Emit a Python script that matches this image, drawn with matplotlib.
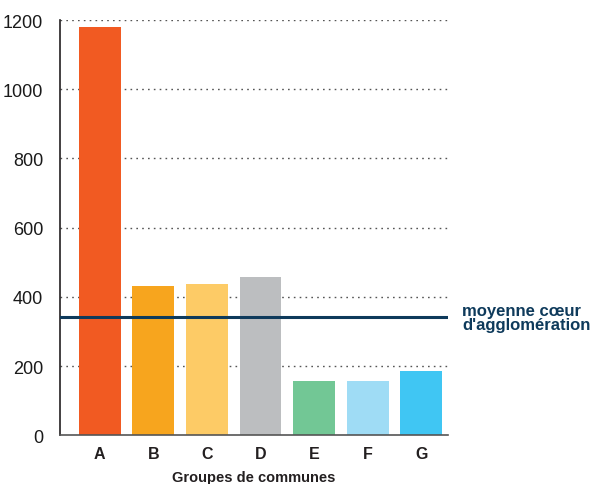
import matplotlib
matplotlib.use("Agg")
import matplotlib.pyplot as plt

groups = ["A", "B", "C", "D", "E", "F", "G"]
values = [1180, 432, 437, 458, 157, 157, 186]
colors = ["#f15a22", "#f7a51e", "#fdcb66", "#bcbec0", "#72c795", "#9fdcf5", "#40c6f3"]
mean_value = 341
mean_label = "moyenne cœur\nd'agglomération"
y_ticks = [0, 200, 400, 600, 800, 1000, 1200]

plt.rcParams["font.family"] = ["Liberation Sans", "DejaVu Sans"]

fig = plt.figure(figsize=(5.98, 4.85), dpi=100)
ax = fig.add_axes([60 / 598, 1 - 436.3 / 485, 388 / 598, 415.3 / 485])

x = list(range(len(groups)))
ax.bar(x, values, width=0.78, color=colors, zorder=2)

ax.set_ylim(0, 1200)
ax.set_xlim(-0.74, 6.5)
ax.set_yticks(y_ticks)
ax.set_yticklabels([str(v) for v in y_ticks], fontsize=13, color="#1a1a1a")
ax.set_xticks(x)
ax.set_xticklabels(groups, fontsize=11.5, fontweight="bold", color="#231f20")
ax.tick_params(axis="both", length=0)
ax.tick_params(axis="y", pad=12)
ax.tick_params(axis="x", pad=8)

for v in y_ticks[1:]:
    ax.axhline(v, color="#555555", linestyle=(0, (1.2, 3)), linewidth=1.0, zorder=1)

ax.axhline(mean_value, color="#0e3a5b", linewidth=2.2, zorder=3)
ax.text(1.036, mean_value, mean_label, transform=ax.get_yaxis_transform(),
        fontsize=12, fontweight="bold", color="#0e3a5b",
        va="center", ha="left", linespacing=0.88, clip_on=False)

for side in ("top", "right"):
    ax.spines[side].set_visible(False)
ax.spines["left"].set_color("#231f20")
ax.spines["left"].set_linewidth(1.2)
ax.spines["bottom"].set_color("#555555")
ax.spines["bottom"].set_linewidth(1.2)

ax.set_xlabel("Groupes de communes", fontsize=10.5, fontweight="bold",
              color="#231f20", va="center")
ax.xaxis.set_label_coords(0.5, -0.100)

fig.savefig("out.png", dpi=100)
